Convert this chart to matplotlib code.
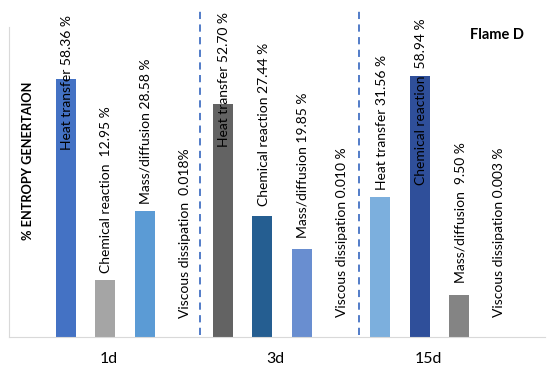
import numpy as np
import matplotlib.pyplot as plt

plt.rcParams['font.family'] = ['Lato', 'DejaVu Sans']

# data: 4 bars per case (heat, chemical, mass, viscous)
cases = ["1d", "3d", "15d"]
values = [58.36, 12.95, 28.58, 0.018,
          52.70, 27.44, 19.85, 0.010,
          31.56, 58.94, 9.50, 0.003]
labels = ["Heat transfer 58.36 %", "Chemical reaction  12.95 %",
          "Mass/diffusion 28.58 %", "Viscous dissipation  0.018%",
          "Heat transfer 52.70 %", "Chemical reaction 27.44 %",
          "Mass/diffusion 19.85 %", "Viscous dissipation 0.010 %",
          "Heat transfer 31.56 %", "Chemical reaction  58.94 %",
          "Mass/diffusion  9.50 %", "Viscous dissipation 0.003 %"]
colors = ["#4472C4", "#A5A5A5", "#5B9BD5", "#FFC000",
          "#636363", "#255E91", "#698ED0", "#9E480E",
          "#7CAFDD", "#2F4F9A", "#848484", "#997300"]

# where each label starts (bottom of the rotated text), in % units
label_y = [42.3, 14.5, 30.0, 4.3, 43.0, 29.6, 22.4, 4.5, 33.3, 34.4, 12.2, 4.5]

x = np.arange(len(values))

fig = plt.figure(figsize=(5.5, 3.73), dpi=100)
ax = fig.add_axes([9/550, 36/373, 536/550, 337/373])

ax.bar(x, values, width=0.51, color=colors)

for i in range(len(values)):
    ax.text(x[i] + 0.03, label_y[i], labels[i], rotation=90, ha='center', va='bottom',
            fontsize=10, color='black')

# separators between cases
for xs in [3.42, 7.46]:
    ax.plot([xs, xs], [0.5, 74.5], color='#4472C4', linestyle=(0, (4, 3)), linewidth=1.3)

ax.set_xlim(-1.45, 12.19)
ax.set_ylim(0, 76.2)

ax.set_xticks([1.09, 5.34, 9.21])
ax.set_xticklabels(cases, fontsize=11.5)
ax.tick_params(axis='x', length=0, pad=11)
ax.set_yticks([])

for s in ['top', 'right']:
    ax.spines[s].set_visible(False)
ax.spines['left'].set_color('#D9D9D9')
ax.spines['bottom'].set_color('#D9D9D9')
ax.spines['left'].set_bounds(0, 70.1)

fig.text(28/550, 1 - 161/373, "% ENTROPY GENERTAION", rotation=90, ha='center', va='center',
         fontsize=9.2, fontweight='bold')
fig.text(497/550, 1 - 35/373, "Flame D", ha='center', va='center',
         fontsize=10.5, fontweight='bold')

plt.savefig("out.png", dpi=100)
